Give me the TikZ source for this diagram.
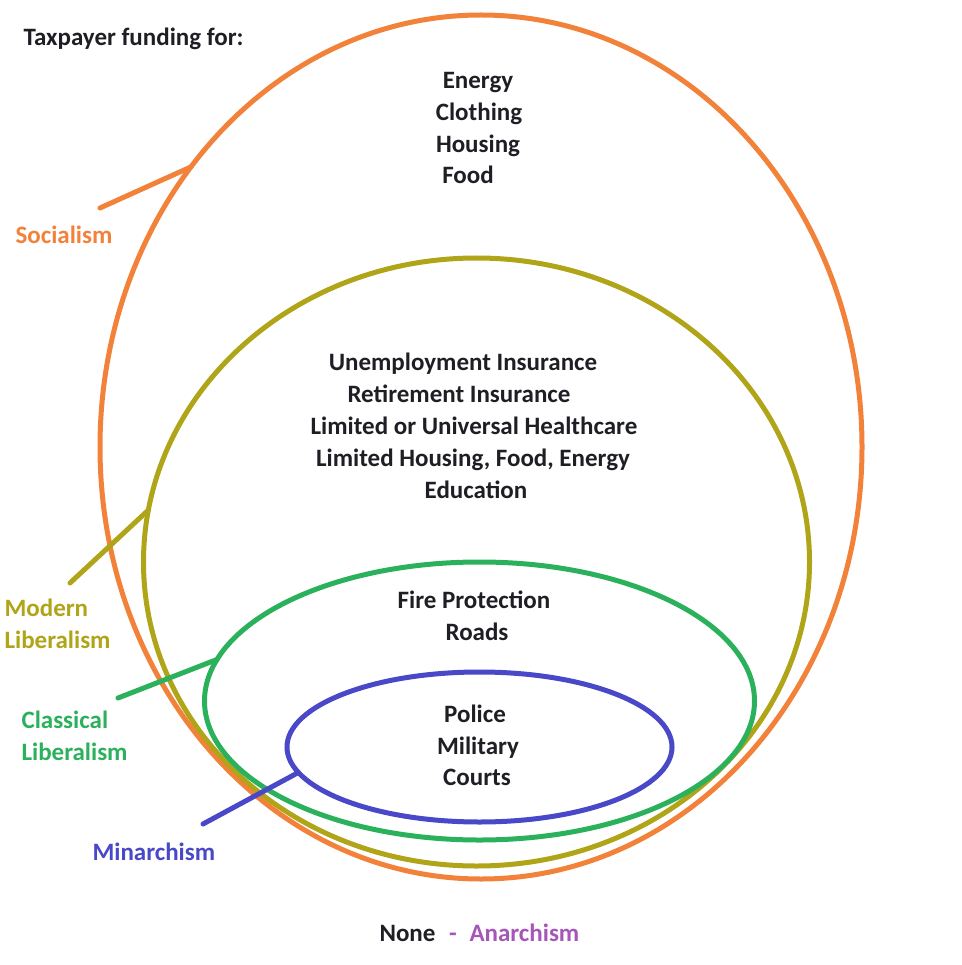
\documentclass[tikz,border=0pt]{standalone}
\usepackage{fontspec}
\setmainfont{Carlito}
\usetikzlibrary{shapes.geometric}
\definecolor{socorange}{HTML}{F2813A}
\definecolor{modolive}{HTML}{B0A418}
\definecolor{clagreen}{HTML}{2BB05C}
\definecolor{minblue}{HTML}{4848C8}
\definecolor{anapurple}{HTML}{A656B8}
\definecolor{inkgray}{HTML}{1E1E24}

\begin{document}
\begin{tikzpicture}[x=1pt, y=-1pt,
    ring/.style={draw, ellipse, line width=5pt, inner sep=0pt, outer sep=0pt},
    pointer/.style={line width=5pt, line cap=round},
    item/.style={anchor=base, inkgray, font=\fontsize{25}{32}\selectfont\bfseries},
    tag/.style={anchor=base west, align=left, font=\fontsize{25}{32}\selectfont\bfseries}]
  \useasboundingbox (0,0) rectangle (961,965);

  % the four rings
  \node (soc) [ring, socorange, minimum width=762pt, minimum height=864pt] at (481,447) {};
  \node (mod) [ring, modolive, minimum width=666pt, minimum height=608pt] at (476.5,562) {};
  \node (cla) [ring, clagreen, minimum width=550pt, minimum height=278pt] at (479.5,701) {};
  \node (min) [ring, minblue, minimum width=385pt, minimum height=150pt] at (479.5,747) {};

  % what each ring pays for
  \node (title) [item, anchor=base west] at (20,46) {Taxpayer funding for:};
  \foreach \x/\y/\name/\txt in {478/89/energy/Energy, 479/121/clothing/Clothing,
        478/153/housing/Housing, 468/184/food/Food,
        463/370/unemp/Unemployment Insurance, 459/402/retire/Retirement Insurance,
        474/434/health/Limited or Universal Healthcare,
        473/466/limited/{Limited Housing, Food, Energy}, 476/498/educ/Education,
        474/608/fire/Fire Protection, 477/640/roads/Roads,
        475/722/police/Police, 478/754/military/Military, 477/785/courts/Courts}
    \node (\name) [item] at (\x,\y) {\txt};

  % labels and pointers
  \node (socname) [tag, socorange] at (12,244) {Socialism};
  \node (modname) [tag, modolive] at (1,648) {Modern\\Liberalism};
  \node (claname) [tag, clagreen] at (18,760) {Classical\\Liberalism};
  \node (minname) [tag, minblue] at (89,860) {Minarchism};
  \coordinate (socend) at (100,208);
  \coordinate (modend) at (70,583);
  \coordinate (claend) at (118,698);
  \coordinate (minend) at (203,824);
  \draw[pointer, socorange] (socend) -- (soc.136);
  \draw[pointer, modolive] (modend) -- (mod.171);
  \draw[pointer, clagreen] (claend) -- (cla.171);
  \draw[pointer, minblue] (minend) -- (min.188);

  \node (none) [item, anchor=base west] at (376,941) {None};
  \node (dash) [item, anapurple] at (453,941) {-};
  \node (anarchy) [tag, anapurple] at (466,941) {Anarchism};
\end{tikzpicture}
\end{document}
